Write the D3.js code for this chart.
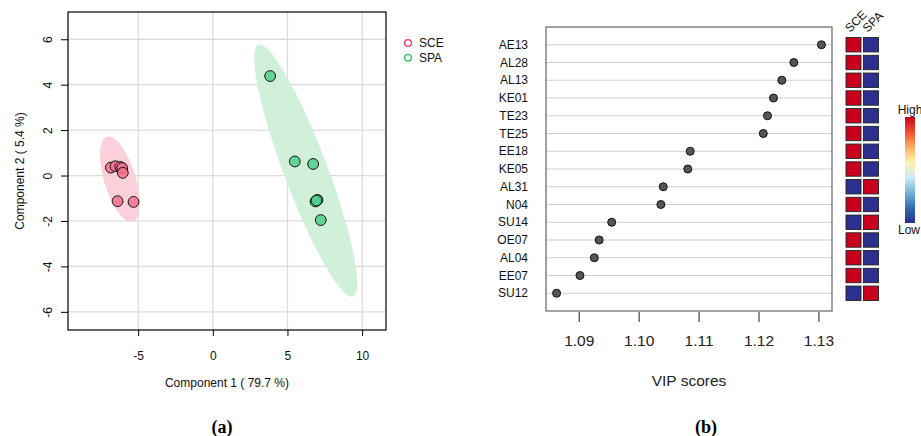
<!DOCTYPE html>
<html>
<head>
<meta charset="utf-8">
<script src="https://cdn.jsdelivr.net/npm/d3@7"></script>
<style>
  body { margin: 0; background: #fff; }
  text { font-family: "Liberation Sans", Arial, sans-serif; }
</style>
</head>
<body>
<svg id="chart" width="921" height="436"></svg>
<script>
// ---- panel (a): PLS-DA scores ----
const groups = ['SCE', 'SPA'];
const sceScores = [[-6.83, 0.35], [-6.52, 0.41], [-6.20, 0.38], [-6.07, 0.33], [-6.03, 0.12], [-6.38, -1.13], [-5.31, -1.16]];
const spaScores = [[3.84, 4.38], [5.49, 0.62], [6.72, 0.51], [7.01, -1.07], [6.88, -1.14], [6.95, -1.10], [7.23, -1.96]];
// confidence ellipses: centre, half major axis, half minor axis (data units)
const sceEllipse = [[-6.23, -0.16], [0.87, -1.87], [1.00, 0.21]];
const spaEllipse = [[6.22, 0.22], [3.17, -5.54], [1.36, 0.34]];
const xTicksA = [-5, 0, 5, 10];
const yTicksA = [-6, -4, -2, 0, 2, 4, 6];
const xLimA = [-9.7, 11.6];
const yLimA = [-6.8, 7.2];

// ---- panel (b): VIP scores ----
const features = ['AE13', 'AL28', 'AL13', 'KE01', 'TE23', 'TE25', 'EE18', 'KE05', 'AL31', 'N04', 'SU14', 'OE07', 'AL04', 'EE07', 'SU12'];
const vipScores = [1.1305, 1.1259, 1.1239, 1.1225, 1.1215, 1.1208, 1.1086, 1.1082, 1.1041, 1.1037, 1.0955, 1.0934, 1.0926, 1.0902, 1.0863];
const sceLevel = [1, 1, 1, 1, 1, 1, 1, 1, 0, 1, 0, 1, 1, 1, 0];
const spaLevel = [0, 0, 0, 0, 0, 0, 0, 0, 1, 0, 1, 0, 0, 0, 1];
const xTicksB = [1.09, 1.10, 1.11, 1.12, 1.13];

const svg = d3.select('#chart');
const hyphen = d => String(d).replace('\u2212', '-');

/* ================= panel (a) ================= */
const boxA = { left: 68, top: 12, right: 386, bottom: 330 };
const xA = d3.scaleLinear().domain(xLimA).range([boxA.left, boxA.right]);
const yA = d3.scaleLinear().domain(yLimA).range([boxA.bottom, boxA.top]);
const colA = { SCE: '#f6708f', SPA: '#4fcf8b' };
const ellipseFill = { SCE: '#fbd0da', SPA: '#d0f0da' };
const legendCol = { SCE: '#f0406c', SPA: '#2fbf62' };

const gA = svg.append('g').attr('class', 'panel-a');

// grid
gA.append('g').selectAll('line.vgrid')
  .data(xTicksA)
  .join('line')
  .attr('x1', d => xA(d)).attr('x2', d => xA(d))
  .attr('y1', boxA.top).attr('y2', boxA.bottom)
  .attr('stroke', '#dcdcdc').attr('stroke-width', 1.3);
gA.append('g').selectAll('line.hgrid')
  .data(yTicksA)
  .join('line')
  .attr('x1', boxA.left).attr('x2', boxA.right)
  .attr('y1', d => yA(d)).attr('y2', d => yA(d))
  .attr('stroke', '#dcdcdc').attr('stroke-width', 1.3);

// ellipses
function ellipsePath(e) {
  const [c, a, b] = e;
  const pts = d3.range(0, 360, 4).map(deg => {
    const t = deg * Math.PI / 180;
    return [xA(c[0] + a[0] * Math.cos(t) + b[0] * Math.sin(t)),
            yA(c[1] + a[1] * Math.cos(t) + b[1] * Math.sin(t))];
  });
  return d3.line().curve(d3.curveCardinalClosed)(pts);
}
gA.append('path').attr('d', ellipsePath(sceEllipse)).attr('fill', ellipseFill.SCE);
gA.append('path').attr('d', ellipsePath(spaEllipse)).attr('fill', ellipseFill.SPA);

// points
const pointsA = [
  ...sceScores.map(p => ({ g: 'SCE', x: p[0], y: p[1] })),
  ...spaScores.map(p => ({ g: 'SPA', x: p[0], y: p[1] }))
];
gA.append('g').selectAll('circle')
  .data(pointsA)
  .join('circle')
  .attr('cx', d => xA(d.x))
  .attr('cy', d => yA(d.y))
  .attr('r', 5.4)
  .attr('fill', d => colA[d.g])
  .attr('fill-opacity', 0.85)
  .attr('stroke', '#111')
  .attr('stroke-width', 1);

// box
gA.append('rect')
  .attr('x', boxA.left).attr('y', boxA.top)
  .attr('width', boxA.right - boxA.left).attr('height', boxA.bottom - boxA.top)
  .attr('fill', 'none').attr('stroke', '#000').attr('stroke-width', 1.2);

// axes
const axA = gA.append('g')
  .attr('transform', `translate(0,${boxA.bottom})`)
  .call(d3.axisBottom(xA).tickValues(xTicksA).tickSize(6).tickPadding(15).tickFormat(hyphen));
axA.select('.domain').remove();
axA.selectAll('text').attr('font-size', 12).attr('fill', '#111').style('font-family', '"Liberation Sans", Arial, sans-serif');

const ayA = gA.append('g')
  .attr('transform', `translate(${boxA.left},0)`)
  .call(d3.axisLeft(yA).tickValues(yTicksA).tickSize(7).tickFormat(hyphen));
ayA.select('.domain').remove();
ayA.selectAll('text')
  .attr('font-size', 12).attr('fill', '#111')
  .style('font-family', '"Liberation Sans", Arial, sans-serif')
  .attr('text-anchor', 'middle')
  .attr('x', 0).attr('dy', null).attr('y', 0)
  .attr('transform', 'translate(-19,0) rotate(-90)')
  .attr('dominant-baseline', 'middle');

gA.append('text')
  .attr('x', 227).attr('y', 387)
  .attr('text-anchor', 'middle').attr('font-size', 12).attr('fill', '#111')
  .text('Component 1 ( 79.7 %)');
gA.append('text')
  .attr('transform', `translate(24,${(boxA.top + boxA.bottom) / 2}) rotate(-90)`)
  .attr('text-anchor', 'middle').attr('font-size', 12).attr('fill', '#111')
  .text('Component 2 ( 5.4 %)');

// legend
const legA = gA.append('g').selectAll('g')
  .data(groups)
  .join('g')
  .attr('transform', (d, i) => `translate(408,${43 + i * 14.7})`);
legA.append('circle').attr('r', 3.4).attr('fill', 'none')
  .attr('stroke', d => legendCol[d]).attr('stroke-width', 1.3);
legA.append('text').attr('x', 11).attr('dy', '0.35em')
  .attr('font-size', 12).attr('fill', '#111').text(d => d);

/* ================= panel (b) ================= */
const boxB = { left: 546, top: 27, right: 832, bottom: 311 };
const vipExt = d3.extent(vipScores);
const pad = (vipExt[1] - vipExt[0]) * 0.04;
const xB = d3.scaleLinear().domain([vipExt[0] - pad, vipExt[1] + pad]).range([boxB.left, boxB.right]);
const yB = d3.scalePoint().domain(features).range([boxB.top, boxB.bottom]).padding(1);

const gB = svg.append('g').attr('class', 'panel-b');

gB.append('g').selectAll('line')
  .data(features)
  .join('line')
  .attr('x1', boxB.left).attr('x2', boxB.right)
  .attr('y1', d => yB(d)).attr('y2', d => yB(d))
  .attr('stroke', '#cfcfcf').attr('stroke-width', 1.2);

gB.append('rect')
  .attr('x', boxB.left).attr('y', boxB.top)
  .attr('width', boxB.right - boxB.left).attr('height', boxB.bottom - boxB.top)
  .attr('fill', 'none').attr('stroke', '#666').attr('stroke-width', 1.2);

gB.append('g').selectAll('circle')
  .data(features)
  .join('circle')
  .attr('cx', (d, i) => xB(vipScores[i]))
  .attr('cy', d => yB(d))
  .attr('r', 4)
  .attr('fill', '#555')
  .attr('stroke', '#111')
  .attr('stroke-width', 1);

// row labels
gB.append('g').selectAll('text')
  .data(features)
  .join('text')
  .attr('x', 528).attr('y', d => yB(d)).attr('dy', '0.35em')
  .attr('text-anchor', 'end').attr('font-size', 12).attr('fill', '#111')
  .text(d => d);

const axB = gB.append('g')
  .attr('transform', `translate(0,${boxB.bottom + 1})`)
  .call(d3.axisBottom(xB).tickValues(xTicksB).tickSize(10).tickPadding(13).tickFormat(d3.format('.2f')));
axB.select('.domain').remove();
axB.selectAll('line').attr('stroke', '#444').attr('stroke-width', 1.2);
axB.selectAll('text').attr('font-size', 15.5).attr('fill', '#222')
  .style('font-family', '"Liberation Sans", Arial, sans-serif');

gB.append('text')
  .attr('x', 689).attr('y', 386)
  .attr('text-anchor', 'middle').attr('font-size', 15.5).attr('fill', '#222')
  .text('VIP scores');

// heat map of group levels
const heatPalette = ['#2b2f8e', '#2f6db0', '#74b4d6', '#cfebf2', '#fff2b0', '#fdb060', '#f0502e', '#c8001e'];
const heat = d3.scaleLinear()
  .domain(d3.range(heatPalette.length).map(i => i / (heatPalette.length - 1)))
  .range(heatPalette);
const colX = { SCE: 846, SPA: 863.5 };
const cellW = 15, cellH = 14.4;
const cells = [];
features.forEach((f, i) => {
  cells.push({ f, g: 'SCE', v: sceLevel[i] });
  cells.push({ f, g: 'SPA', v: spaLevel[i] });
});
gB.append('g').selectAll('rect')
  .data(cells)
  .join('rect')
  .attr('x', d => colX[d.g])
  .attr('y', d => yB(d.f) - cellH / 2)
  .attr('width', cellW).attr('height', cellH)
  .attr('fill', d => heat(d.v))
  .attr('stroke', '#222').attr('stroke-width', 0.9);

gB.append('g').selectAll('text')
  .data(groups)
  .join('text')
  .attr('transform', d => `translate(${colX[d] + 4},${33}) rotate(-45)`)
  .attr('font-size', 12).attr('fill', '#111')
  .text(d => d);

// colour key
const defs = svg.append('defs');
const grad = defs.append('linearGradient')
  .attr('id', 'heat-grad').attr('x1', 0).attr('y1', 1).attr('x2', 0).attr('y2', 0);
heatPalette.forEach((c, i) => {
  grad.append('stop').attr('offset', i / (heatPalette.length - 1)).attr('stop-color', c);
});
gB.append('rect')
  .attr('x', 905).attr('y', 117).attr('width', 10).attr('height', 106)
  .attr('fill', 'url(#heat-grad)');
gB.append('text').attr('x', 910).attr('y', 114).attr('text-anchor', 'middle')
  .attr('font-size', 12).attr('fill', '#111').text('High');
gB.append('text').attr('x', 909).attr('y', 234).attr('text-anchor', 'middle')
  .attr('font-size', 12).attr('fill', '#111').text('Low');

/* ================= captions ================= */
svg.append('text')
  .attr('x', 222).attr('y', 433).attr('text-anchor', 'middle')
  .attr('font-size', 18).attr('font-weight', 'bold')
  .style('font-family', '"Liberation Serif", "DejaVu Serif", serif')
  .text('(a)');
svg.append('text')
  .attr('x', 706).attr('y', 433).attr('text-anchor', 'middle')
  .attr('font-size', 18).attr('font-weight', 'bold')
  .style('font-family', '"Liberation Serif", "DejaVu Serif", serif')
  .text('(b)');
</script>
</body>
</html>
